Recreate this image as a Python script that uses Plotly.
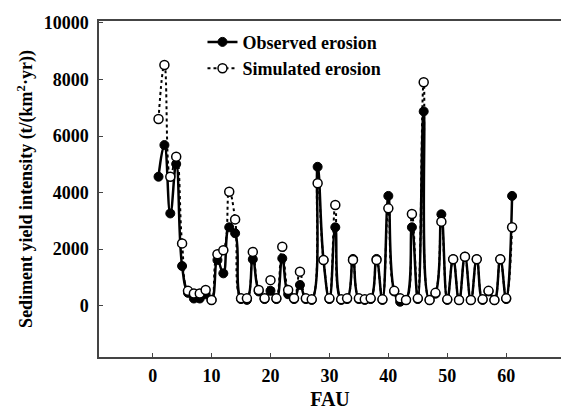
import plotly.graph_objects as go

fau = [1, 2, 3, 4, 5, 6, 7, 8, 9, 10, 11, 12, 13, 14, 15, 16, 17, 18, 19, 20,
       21, 22, 23, 24, 25, 26, 27, 28, 29, 30, 31, 32, 33, 34, 35, 36, 37, 38, 39, 40,
       41, 42, 43, 44, 45, 46, 47, 48, 49, 50, 51, 52, 53, 54, 55, 56, 57, 58, 59, 60, 61]

observed = [4560, 5680, 3260, 5010, 1400, 450, 250, 250, 400, 200,
            1610, 1140, 2770, 2560, 230, 200, 1640, 500, 230, 520,
            230, 1670, 400, 230, 730, 230, 200, 4910, 1610, 230,
            2770, 200, 230, 1650, 230, 200, 230, 1650, 200, 3880,
            500, 135, 195, 2770, 230, 6870, 195, 420, 3230, 200,
            1640, 195, 1730, 195, 1640, 200, 500, 195, 1640, 230, 3880]

simulated = [6600, 8510, 4560, 5270, 2200, 520, 430, 430, 550, 195,
             1820, 1960, 4030, 3050, 255, 255, 1900, 550, 255, 900,
             255, 2080, 550, 255, 1200, 255, 220, 4330, 1610, 255,
             3560, 220, 255, 1610, 255, 220, 255, 1610, 220, 3440,
             520, 255, 195, 3240, 255, 7900, 195, 450, 2970, 220,
             1640, 195, 1730, 195, 1640, 220, 520, 195, 1640, 255, 2770]

x_ticks = [0, 10, 20, 30, 40, 50, 60]
y_ticks = [0, 2000, 4000, 6000, 8000, 10000]
y_tick_labels = ["0", "2000", "4000", "6000", "8000", "10000"]

serif = "Liberation Serif, Times New Roman, serif"

fig = go.Figure()
fig.add_trace(go.Scatter(
    x=fau, y=observed, name="Observed erosion", mode="lines+markers",
    line=dict(color="black", width=2.5, shape="spline", smoothing=1.3),
    marker=dict(symbol="circle", size=9, color="black", line=dict(color="black", width=1)),
))
fig.add_trace(go.Scatter(
    x=fau, y=simulated, name="Simulated erosion", mode="lines+markers",
    line=dict(color="black", width=2, dash="dot", shape="spline", smoothing=1.3),
    marker=dict(symbol="circle", size=9, color="white", line=dict(color="black", width=1.5)),
))

axis_common = dict(
    showline=True, linecolor="#444", linewidth=1.5, mirror=True,
    ticks="inside", ticklen=4, tickcolor="#444", tickwidth=1,
    showgrid=False, zeroline=False, automargin=False,
    tickfont=dict(family=serif, size=18, color="black", weight="bold"),
)

fig.update_xaxes(
    range=[-9.1, 69.3], tickvals=x_ticks,
    title=dict(text="FAU", font=dict(family=serif, size=20, color="black", weight="bold"), standoff=9),
    ticklabelstandoff=2,
    **axis_common,
)
fig.update_yaxes(
    range=[-1820, 10070], tickvals=y_ticks, ticktext=y_tick_labels,
    title=dict(text="Sediment yield intensity (t/(km<sup>2</sup>·yr))",
               font=dict(family=serif, size=18, color="black", weight="bold"), standoff=6),
    ticklabelstandoff=5,
    **axis_common,
)

fig.update_layout(
    width=561, height=410,
    margin=dict(l=99, r=0, t=21, b=53, autoexpand=False),
    paper_bgcolor="white", plot_bgcolor="white",
    showlegend=True,
    legend=dict(
        x=0.224, y=0.992, xanchor="left", yanchor="top",
        font=dict(family=serif, size=18, color="black", weight="bold"),
        bgcolor="rgba(0,0,0,0)", tracegroupgap=0, itemwidth=30,
    ),
)

fig.write_html(
    "out.html",
    config={"displayModeBar": False},
    post_script="document.body.style.margin='0';document.body.style.overflow='hidden';",
)
